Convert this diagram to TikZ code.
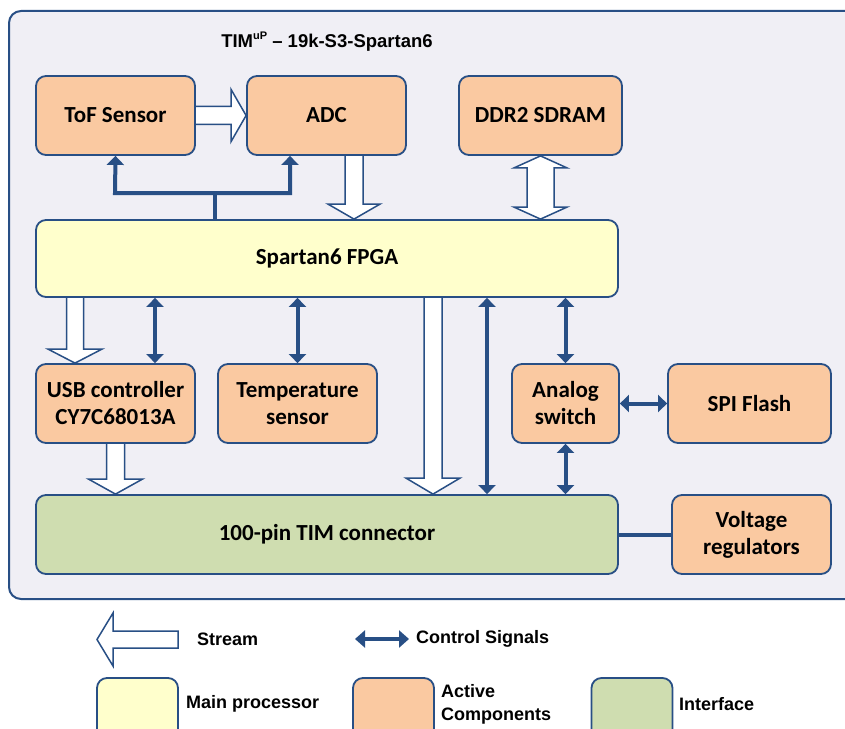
\documentclass[tikz,border=0pt]{standalone}
\usepackage{fontspec}
\setmainfont{Carlito}
\newfontfamily\legendfont{Liberation Sans}
\usetikzlibrary{positioning,calc,arrows.meta}
\definecolor{TimBorder}{HTML}{284F85}
\definecolor{TimBack}{HTML}{F0EFF5}
\definecolor{TimActive}{HTML}{FAC9A1}
\definecolor{TimMain}{HTML}{FFFFCC}
\definecolor{TimIface}{HTML}{CFDDB0}
\pgfdeclarelayer{background}
\pgfsetlayers{background,main}

\tikzset{
  block/.style={draw=TimBorder, line width=1.8bp, rounded corners=10bp, align=center,
    inner sep=0pt, minimum width=159bp, minimum height=79bp,
    font=\bfseries\fontsize{23bp}{27bp}\selectfont},
  active/.style={block, fill=TimActive},
  mainproc/.style={block, fill=TimMain},
  iface/.style={block, fill=TimIface},
  legbox/.style={draw=TimBorder, line width=1.8bp, rounded corners=10bp,
    minimum width=81bp, minimum height=64bp, inner sep=0pt},
  legtext/.style={anchor=west, inner sep=0pt, align=left,
    font=\legendfont\bfseries\fontsize{18bp}{23bp}\selectfont},
  stream/.style={draw=TimBorder, fill=white, line width=1.5bp, line join=miter},
  ctrlline/.style={draw=TimBorder, line width=4bp},
  ctrl/.style={ctrlline, >={Triangle[length=9bp,width=17bp]}, <->},
}

% hollow block arrows: start, tip, half shaft, half head, head length
\newcommand{\streamdown}[5]{%
  \draw[stream] let \p1=(#1), \p2=(#2) in
    (\x1-#3,\y1) -- (\x1-#3,\y2+#5) -- (\x1-#4,\y2+#5) -- (\x2,\y2)
    -- (\x1+#4,\y2+#5) -- (\x1+#3,\y2+#5) -- (\x1+#3,\y1);}
\newcommand{\streamright}[5]{%
  \draw[stream] let \p1=(#1), \p2=(#2) in
    (\x1,\y1+#3) -- (\x2-#5,\y1+#3) -- (\x2-#5,\y1+#4) -- (\x2,\y2)
    -- (\x2-#5,\y1-#4) -- (\x2-#5,\y1-#3) -- (\x1,\y1-#3);}
\newcommand{\streamboth}[5]{%
  \draw[stream] let \p1=(#1), \p2=(#2) in
    (\x1,\y1) -- (\x1+#4,\y1-#5) -- (\x1+#3,\y1-#5) -- (\x1+#3,\y2+#5)
    -- (\x1+#4,\y2+#5) -- (\x2,\y2) -- (\x1-#4,\y2+#5) -- (\x1-#3,\y2+#5)
    -- (\x1-#3,\y1-#5) -- (\x1-#4,\y1-#5) -- cycle;}

\begin{document}
\begin{tikzpicture}[x=1bp,y=-1bp]
  \useasboundingbox (0,0) rectangle (845,729);

  % Board frame
  \begin{pgfonlayer}{background}
    \draw[TimBorder, fill=TimBack, line width=2bp, rounded corners=12bp] (9,11) rectangle (880,599);
  \end{pgfonlayer}
  \node[inner sep=0pt, anchor=base, font=\legendfont\bfseries\fontsize{18.5bp}{18bp}\selectfont] (title) at (327,48)
    {TIM\raisebox{8bp}{\fontsize{11bp}{11bp}\selectfont uP} – 19k-S3-Spartan6};

  % Components
  \node[active] (tof) at (115.5,115.5) {ToF Sensor};
  \node[active] (adc) at (326.5,115.5) {ADC};
  \node[active, minimum width=163bp] (ddr) at (540.5,115.5) {DDR2 SDRAM};
  \node[mainproc, minimum width=582bp, minimum height=77bp] (fpga) at (327,258.5) {Spartan6 FPGA};
  \node[active] (usb) at (115.5,403.5) {USB controller\\CY7C68013A};
  \node[active] (temp) at (297.5,403.5) {Temperature\\sensor};
  \node[active, minimum width=107bp] (aswitch) at (565.5,403.5) {Analog\\switch};
  \node[active, minimum width=163bp] (spi) at (749.5,403.5) {SPI Flash};
  \node[iface, minimum width=582bp] (tim) at (327,534.5) {100-pin TIM connector};
  \node[active] (volt) at (751.5,534.5) {Voltage\\regulators};

  \begin{pgfonlayer}{background}
    % Streams
    \streamright{tof.east}{adc.west}{9bp}{26bp}{15bp}
    \streamdown{354,0 |- adc.south}{354,0 |- fpga.north}{9bp}{26bp}{15bp}
    \streamboth{ddr.south}{fpga.north -| ddr.south}{13.5bp}{26.5bp}{12bp}
    \streamdown{75,0 |- fpga.south}{75,0 |- usb.north}{8.5bp}{27bp}{14bp}
    \streamdown{usb.south}{usb.south |- tim.north}{9bp}{27bp}{15bp}
    \streamdown{433,0 |- fpga.south}{433,0 |- tim.north}{9bp}{27bp}{16bp}

    % Control signals
    \draw[ctrl] (tof.south) -- (115,193) -- (290,193) -- (290,0 |- adc.south);
    \draw[ctrlline] (215,193) -- (215,0 |- fpga.north);
    \draw[ctrl] (155,0 |- fpga.south) -- (155,0 |- usb.north);
    \draw[ctrl] (temp.north |- fpga.south) -- (temp.north);
    \draw[ctrl] (487,0 |- fpga.south) -- (487,0 |- tim.north);
    \draw[ctrl] (aswitch.north |- fpga.south) -- (aswitch.north);
    \draw[ctrl] (aswitch.south) -- (aswitch.south |- tim.north);
    \draw[ctrl] (aswitch.east) -- (spi.west);
    \draw[ctrlline] (tim.east) -- (volt.west);
  \end{pgfonlayer}

  % Legend
  \draw[stream] (178,631) -- (113,631) -- (113,613) -- (97,639.5) -- (113,666) -- (113,648) -- (178,648) -- cycle;
  \node[legtext] (legstream) at (197,639) {Stream};
  \coordinate (legctrlL) at (355,639);
  \coordinate (legctrlR) at (409,639);
  \draw[ctrl, >={Triangle[length=10bp,width=17bp]}] (legctrlL) -- (legctrlR);
  \node[legtext] (legcontrol) at (416,639) {Control Signals};

  \node[legbox, fill=TimMain] (legmain) at (137.5,710) {};
  \node[legtext] (legmaintext) at (186,704) {Main processor};
  \node[legbox, fill=TimActive] (legactive) at (393.5,710) {};
  \node[legtext] (legactivetext) at (441,704) {Active\\Components};
  \node[legbox, fill=TimIface] (legiface) at (632,710) {};
  \node[legtext] (legifacetext) at (679,704) {Interface};
\end{tikzpicture}
\end{document}
